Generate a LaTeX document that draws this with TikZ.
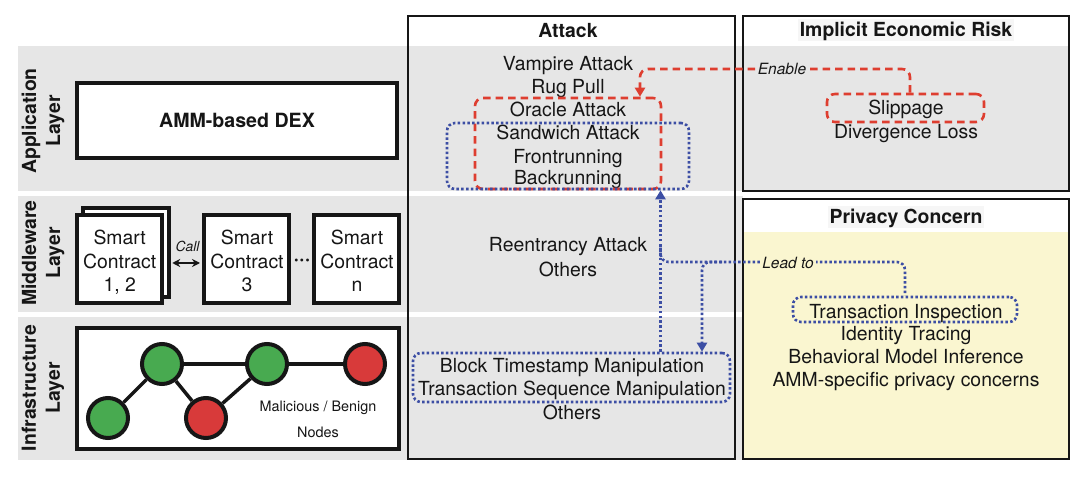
\documentclass[tikz,border=0pt]{standalone}
\usepackage{fontspec}
\setmainfont{TeX Gyre Heros}
\usetikzlibrary{arrows.meta,calc}
\definecolor{bandgray}{RGB}{230,230,230}
\definecolor{pyellow}{RGB}{250,246,208}
\definecolor{ink}{RGB}{22,22,22}
\definecolor{rdash}{RGB}{222,62,48}
\definecolor{bdot}{RGB}{60,78,164}
\definecolor{pgreen}{RGB}{72,170,80}
\definecolor{pred}{RGB}{216,58,58}
\definecolor{ttlfill}{RGB}{246,246,246}
\begin{document}
\begin{tikzpicture}[x=1pt,y=-1pt,
  txt/.style={font=\fontsize{19.4}{23}\selectfont, text=ink, inner sep=0pt, text height=13.9pt, text depth=0pt},
  ttl/.style={font=\fontsize{19.4}{23}\selectfont\bfseries, text=ink, inner xsep=2pt, inner ysep=4pt, text height=13.9pt, text depth=0pt},
  lyr/.style={font=\fontsize{19.4}{24}\selectfont\bfseries, text=ink, align=center, rotate=90, inner sep=0pt},
  thickbox/.style={draw=ink, line width=4pt, fill=white, inner sep=0pt},
  catbox/.style={draw=ink, line width=2.5pt, inner sep=0pt},
  reddash/.style={draw=rdash, line width=2.6pt, dash pattern=on 7.5pt off 5pt, rounded corners=8pt},
  bluedot/.style={draw=bdot, line width=2.6pt, dash pattern=on 2.5pt off 2.3pt, rounded corners=8pt},
  peer/.style={circle, draw=ink, line width=4pt, minimum size=40pt, inner sep=0pt},
  link/.style={draw=ink, line width=3.5pt},
  rtip/.style={-{Triangle[length=9pt,width=10pt]}},
  small/.style={font=\fontsize{14.4}{17}\selectfont, text=ink, inner sep=0pt},
  lbl/.style={font=\fontsize{15.5}{18}\selectfont\itshape, text=ink, inner xsep=2pt, inner ysep=1pt}
]
\useasboundingbox (0,0) rectangle (1090,478);

% layer bands
\fill[bandgray] (18,46) rectangle (1069,191);
\fill[bandgray] (18,196) rectangle (743,312);
\fill[bandgray] (18,317) rectangle (743,460);
\fill[pyellow] (743,232) rectangle (1069,459);

% category frames
\node[catbox, minimum width=327, minimum height=443] (attackBox) at (571.5,237.5) {};
\node[catbox, minimum width=326, minimum height=175] (ierBox) at (906,103.5) {};
\node[catbox, minimum width=326, minimum height=260] (privBox) at (906,329) {};

% titles
\node[ttl] (tAttack) at (568,31) {Attack};
\node[ttl, fill=ttlfill] (tIER) at (906,30) {Implicit Economic Risk};
\node[ttl, fill=ttlfill] (tPriv) at (906,217) {Privacy Concern};

% layer labels
\node[lyr] (lApp) at (43,121) {Application\\Layer};
\node[lyr] (lMid) at (43,253) {Middleware\\Layer};
\node[lyr] (lInf) at (43,388) {Infrastructure\\Layer};

% application layer
\node[thickbox, minimum width=320, minimum height=75, font=\fontsize{19.6}{23}\selectfont\bfseries, text=ink] (dex) at (237,120.5) {AMM-based DEX};

% middleware layer
\node[thickbox, line width=3.5pt, minimum width=86, minimum height=89] (sc1b) at (126,252.5) {};
\node[thickbox, minimum width=85, minimum height=88] (sc1) at (119.5,259) {};
\node[thickbox, minimum width=85, minimum height=88] (sc2) at (246.5,259) {};
\node[thickbox, minimum width=85, minimum height=88] (sc3) at (356.5,259) {};
\node[txt] (s1a) at (119.7,238) {Smart};
\node[txt] (s1b) at (119.7,261.7) {Contract};
\node[txt] (s1c) at (119.7,285) {1, 2};
\node[txt] (s2a) at (247,238) {Smart};
\node[txt] (s2b) at (247,261.7) {Contract};
\node[txt] (s2c) at (247,285) {3};
\node[txt] (s3a) at (357,238) {Smart};
\node[txt] (s3b) at (357,261.7) {Contract};
\node[txt] (s3c) at (357,285) {n};
\coordinate (callY) at (0,263);
\draw[ink, line width=2pt, {Stealth[length=8pt,width=8pt]}-{Stealth[length=8pt,width=8pt]}, shorten <=1.5pt, shorten >=2pt] (sc1b.east |- callY) -- (sc2.west |- callY);
\node[font=\fontsize{13.9}{16}\selectfont\itshape, text=ink, inner sep=0pt] (callLbl) at (187.5,246) {Call};
\node[font=\fontsize{20}{22}\selectfont\bfseries, text=ink, inner sep=0pt] (dots) at (302,262) {···};

% infrastructure layer
\node[thickbox, minimum width=322, minimum height=121] (infra) at (238,388.5) {};
\node[peer, fill=pgreen] (n1) at (162,364) {};
\node[peer, fill=pgreen] (n2) at (267,364) {};
\node[peer, fill=pred]   (n3) at (365,364) {};
\node[peer, fill=pgreen] (n4) at (108,418) {};
\node[peer, fill=pred]   (n5) at (206,418) {};
\draw[link] (n4) -- (n1);
\draw[link] (n1) -- (n2);
\draw[link] (n1) -- (n5);
\draw[link] (n5) -- (n2);
\draw[link] (n2) -- (n3);
\node[small] (mb1) at (318,408) {Malicious / Benign};
\node[small] (mb2) at (318,432) {Nodes};

% attack column
\node[txt] (a1) at (568,64) {Vampire Attack};
\node[txt] (a2) at (568,87) {Rug Pull};
\node[txt] (a3) at (568,109.7) {Oracle Attack};
\node[txt] (a4) at (568,133) {Sandwich Attack};
\node[txt] (a5) at (568,156.7) {Frontrunning};
\node[txt] (a6) at (568,178) {Backrunning};
\node[txt] (m1) at (568,245) {Reentrancy Attack};
\node[txt] (m2) at (568,269.7) {Others};
\node[txt] (i1) at (572,366) {Block Timestamp Manipulation};
\node[txt] (i2) at (572,388.7) {Transaction Sequence Manipulation};
\node[txt] (i3) at (572,413) {Others};

% implicit economic risk
\node[txt] (r1) at (906,107.7) {Slippage};
\node[txt] (r2) at (906,131.3) {Divergence Loss};

% privacy
\node[txt] (p1) at (906,311.7) {Transaction Inspection};
\node[txt] (p2) at (906,333.5) {Identity Tracing};
\node[txt] (p3) at (906,356.7) {Behavioral Model Inference};
\node[txt] (p4) at (906,380) {AMM-specific privacy concerns};

% group boxes
\node[reddash, minimum width=186, minimum height=91, inner sep=0pt] (oracleBox) at (568,143.5) {};
\node[bluedot, minimum width=242, minimum height=66, inner sep=0pt] (sandBox) at (568,156) {};
\node[bluedot, minimum width=317, minimum height=49, inner sep=0pt] (infraBox) at (571.5,377.5) {};
\node[reddash, minimum width=157, minimum height=28, inner sep=0pt] (slipBox) at (905.5,108) {};
\node[bluedot, minimum width=224, minimum height=25, inner sep=0pt] (tiBox) at (905,309.5) {};

% Enable connector
\coordinate (eR) at (910,69);
\coordinate (eL) at (640,69);
\draw[reddash, rtip] (slipBox.north -| eR) |- (eL) -- (oracleBox.north -| eL);
\node[lbl, fill=bandgray] (enableLbl) at (782,69) {Enable};

% Lead to connectors
\coordinate (bx) at (660.5,0);
\coordinate (hl) at (0,262);
\coordinate (bJ) at (660.5,245);
\coordinate (bK) at (722,262);
\coordinate (bx2) at (702,0);
\draw[bluedot, rtip] (infraBox.north -| bx) -- (sandBox.south -| bx);
\draw[bluedot] (bJ) |- (tiBox.north |- hl) -- (tiBox.north);
\draw[bluedot, rtip] (bK) -| (infraBox.north -| bx2);
\node[lbl, fill=pyellow] (leadLbl) at (788,263) {Lead to};
\end{tikzpicture}
\end{document}
